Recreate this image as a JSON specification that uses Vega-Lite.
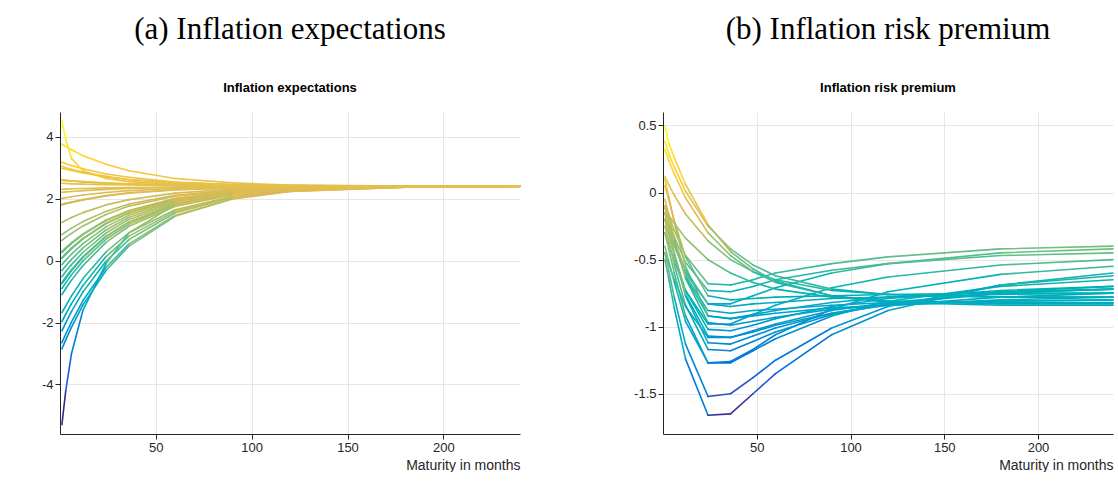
{
  "$schema": "https://vega.github.io/schema/vega-lite/v6.json",
  "background": "white",
  "padding": {"left": 41, "top": 14, "right": 0, "bottom": 0},
  "datasets": {
    "ie": [
      {"d":"2004-09","m":1,"v":2.21},{"d":"2004-09","m":3,"v":2.22},{"d":"2004-09","m":6,"v":2.23},{"d":"2004-09","m":12,"v":2.26},{"d":"2004-09","m":24,"v":2.30},{"d":"2004-09","m":36,"v":2.33},{"d":"2004-09","m":60,"v":2.36},{"d":"2004-09","m":90,"v":2.38},{"d":"2004-09","m":120,"v":2.39},{"d":"2004-09","m":180,"v":2.40},{"d":"2004-09","m":240,"v":2.40},
      {"d":"2005-03","m":1,"v":2.59},{"d":"2005-03","m":3,"v":2.58},{"d":"2005-03","m":6,"v":2.57},{"d":"2005-03","m":12,"v":2.54},{"d":"2005-03","m":24,"v":2.50},{"d":"2005-03","m":36,"v":2.47},{"d":"2005-03","m":60,"v":2.44},{"d":"2005-03","m":90,"v":2.42},{"d":"2005-03","m":120,"v":2.41},{"d":"2005-03","m":180,"v":2.40},{"d":"2005-03","m":240,"v":2.40},
      {"d":"2005-09","m":1,"v":2.98},{"d":"2005-09","m":3,"v":2.95},{"d":"2005-09","m":6,"v":2.91},{"d":"2005-09","m":12,"v":2.83},{"d":"2005-09","m":24,"v":2.70},{"d":"2005-09","m":36,"v":2.61},{"d":"2005-09","m":60,"v":2.51},{"d":"2005-09","m":90,"v":2.45},{"d":"2005-09","m":120,"v":2.42},{"d":"2005-09","m":180,"v":2.40},{"d":"2005-09","m":240,"v":2.40},
      {"d":"2006-03","m":1,"v":2.50},{"d":"2006-03","m":3,"v":2.49},{"d":"2006-03","m":6,"v":2.48},{"d":"2006-03","m":12,"v":2.47},{"d":"2006-03","m":24,"v":2.45},{"d":"2006-03","m":36,"v":2.44},{"d":"2006-03","m":60,"v":2.42},{"d":"2006-03","m":90,"v":2.41},{"d":"2006-03","m":120,"v":2.40},{"d":"2006-03","m":180,"v":2.40},{"d":"2006-03","m":240,"v":2.40},
      {"d":"2006-09","m":1,"v":1.82},{"d":"2006-09","m":3,"v":1.85},{"d":"2006-09","m":6,"v":1.89},{"d":"2006-09","m":12,"v":1.97},{"d":"2006-09","m":24,"v":2.10},{"d":"2006-09","m":36,"v":2.19},{"d":"2006-09","m":60,"v":2.29},{"d":"2006-09","m":90,"v":2.35},{"d":"2006-09","m":120,"v":2.38},{"d":"2006-09","m":180,"v":2.40},{"d":"2006-09","m":240,"v":2.40},
      {"d":"2007-03","m":1,"v":2.30},{"d":"2007-03","m":3,"v":2.31},{"d":"2007-03","m":6,"v":2.32},{"d":"2007-03","m":12,"v":2.33},{"d":"2007-03","m":24,"v":2.35},{"d":"2007-03","m":36,"v":2.36},{"d":"2007-03","m":60,"v":2.38},{"d":"2007-03","m":90,"v":2.39},{"d":"2007-03","m":120,"v":2.40},{"d":"2007-03","m":180,"v":2.40},{"d":"2007-03","m":240,"v":2.40},
      {"d":"2007-09","m":1,"v":2.62},{"d":"2007-09","m":3,"v":2.60},{"d":"2007-09","m":6,"v":2.58},{"d":"2007-09","m":12,"v":2.55},{"d":"2007-09","m":24,"v":2.51},{"d":"2007-09","m":36,"v":2.48},{"d":"2007-09","m":60,"v":2.44},{"d":"2007-09","m":90,"v":2.42},{"d":"2007-09","m":120,"v":2.41},{"d":"2007-09","m":180,"v":2.40},{"d":"2007-09","m":240,"v":2.40},
      {"d":"2008-03","m":1,"v":3.18},{"d":"2008-03","m":3,"v":3.13},{"d":"2008-03","m":6,"v":3.07},{"d":"2008-03","m":12,"v":2.97},{"d":"2008-03","m":24,"v":2.80},{"d":"2008-03","m":36,"v":2.69},{"d":"2008-03","m":60,"v":2.54},{"d":"2008-03","m":90,"v":2.46},{"d":"2008-03","m":120,"v":2.43},{"d":"2008-03","m":180,"v":2.40},{"d":"2008-03","m":240,"v":2.40},
      {"d":"2008-07","m":1,"v":3.76},{"d":"2008-07","m":3,"v":3.69},{"d":"2008-07","m":6,"v":3.58},{"d":"2008-07","m":12,"v":3.39},{"d":"2008-07","m":24,"v":3.11},{"d":"2008-07","m":36,"v":2.90},{"d":"2008-07","m":60,"v":2.65},{"d":"2008-07","m":90,"v":2.51},{"d":"2008-07","m":120,"v":2.44},{"d":"2008-07","m":180,"v":2.41},{"d":"2008-07","m":240,"v":2.40},
      {"d":"2008-12","m":1,"v":-5.30},{"d":"2008-12","m":3,"v":-4.20},{"d":"2008-12","m":6,"v":-3.00},{"d":"2008-12","m":12,"v":-1.60},{"d":"2008-12","m":24,"v":-0.10},{"d":"2008-12","m":36,"v":0.90},{"d":"2008-12","m":60,"v":1.80},{"d":"2008-12","m":90,"v":2.20},{"d":"2008-12","m":120,"v":2.35},{"d":"2008-12","m":180,"v":2.40},{"d":"2008-12","m":240,"v":2.40},
      {"d":"2009-03","m":1,"v":-2.85},{"d":"2009-03","m":3,"v":-2.56},{"d":"2009-03","m":6,"v":-2.15},{"d":"2009-03","m":12,"v":-1.43},{"d":"2009-03","m":24,"v":-0.32},{"d":"2009-03","m":36,"v":0.47},{"d":"2009-03","m":60,"v":1.43},{"d":"2009-03","m":90,"v":1.99},{"d":"2009-03","m":120,"v":2.23},{"d":"2009-03","m":180,"v":2.37},{"d":"2009-03","m":240,"v":2.39},
      {"d":"2009-09","m":1,"v":-0.71},{"d":"2009-09","m":3,"v":-0.54},{"d":"2009-09","m":6,"v":-0.29},{"d":"2009-09","m":12,"v":0.13},{"d":"2009-09","m":24,"v":0.79},{"d":"2009-09","m":36,"v":1.25},{"d":"2009-09","m":60,"v":1.82},{"d":"2009-09","m":90,"v":2.16},{"d":"2009-09","m":120,"v":2.30},{"d":"2009-09","m":180,"v":2.38},{"d":"2009-09","m":240,"v":2.40},
      {"d":"2010-03","m":1,"v":0.84},{"d":"2010-03","m":3,"v":0.93},{"d":"2010-03","m":6,"v":1.05},{"d":"2010-03","m":12,"v":1.26},{"d":"2010-03","m":24,"v":1.59},{"d":"2010-03","m":36,"v":1.83},{"d":"2010-03","m":60,"v":2.11},{"d":"2010-03","m":90,"v":2.28},{"d":"2010-03","m":120,"v":2.35},{"d":"2010-03","m":180,"v":2.39},{"d":"2010-03","m":240,"v":2.40},
      {"d":"2010-09","m":1,"v":0.26},{"d":"2010-09","m":3,"v":0.38},{"d":"2010-09","m":6,"v":0.55},{"d":"2010-09","m":12,"v":0.84},{"d":"2010-09","m":24,"v":1.29},{"d":"2010-09","m":36,"v":1.61},{"d":"2010-09","m":60,"v":2.00},{"d":"2010-09","m":90,"v":2.23},{"d":"2010-09","m":120,"v":2.33},{"d":"2010-09","m":180,"v":2.39},{"d":"2010-09","m":240,"v":2.40},
      {"d":"2011-03","m":1,"v":1.80},{"d":"2011-03","m":3,"v":1.84},{"d":"2011-03","m":6,"v":1.88},{"d":"2011-03","m":12,"v":1.96},{"d":"2011-03","m":24,"v":2.09},{"d":"2011-03","m":36,"v":2.18},{"d":"2011-03","m":60,"v":2.28},{"d":"2011-03","m":90,"v":2.35},{"d":"2011-03","m":120,"v":2.38},{"d":"2011-03","m":180,"v":2.40},{"d":"2011-03","m":240,"v":2.40},
      {"d":"2011-09","m":1,"v":1.23},{"d":"2011-09","m":3,"v":1.30},{"d":"2011-09","m":6,"v":1.39},{"d":"2011-09","m":12,"v":1.55},{"d":"2011-09","m":24,"v":1.80},{"d":"2011-09","m":36,"v":1.97},{"d":"2011-09","m":60,"v":2.18},{"d":"2011-09","m":90,"v":2.31},{"d":"2011-09","m":120,"v":2.36},{"d":"2011-09","m":180,"v":2.39},{"d":"2011-09","m":240,"v":2.40},
      {"d":"2012-03","m":1,"v":0.65},{"d":"2012-03","m":3,"v":0.75},{"d":"2012-03","m":6,"v":0.88},{"d":"2012-03","m":12,"v":1.12},{"d":"2012-03","m":24,"v":1.49},{"d":"2012-03","m":36,"v":1.76},{"d":"2012-03","m":60,"v":2.08},{"d":"2012-03","m":90,"v":2.26},{"d":"2012-03","m":120,"v":2.34},{"d":"2012-03","m":180,"v":2.39},{"d":"2012-03","m":240,"v":2.40},
      {"d":"2012-09","m":1,"v":0.07},{"d":"2012-09","m":3,"v":0.20},{"d":"2012-09","m":6,"v":0.38},{"d":"2012-09","m":12,"v":0.70},{"d":"2012-09","m":24,"v":1.19},{"d":"2012-09","m":36,"v":1.54},{"d":"2012-09","m":60,"v":1.97},{"d":"2012-09","m":90,"v":2.22},{"d":"2012-09","m":120,"v":2.32},{"d":"2012-09","m":180,"v":2.39},{"d":"2012-09","m":240,"v":2.40},
      {"d":"2013-06","m":1,"v":-0.52},{"d":"2013-06","m":3,"v":-0.35},{"d":"2013-06","m":6,"v":-0.13},{"d":"2013-06","m":12,"v":0.27},{"d":"2013-06","m":24,"v":0.89},{"d":"2013-06","m":36,"v":1.33},{"d":"2013-06","m":60,"v":1.86},{"d":"2013-06","m":90,"v":2.17},{"d":"2013-06","m":120,"v":2.30},{"d":"2013-06","m":180,"v":2.38},{"d":"2013-06","m":240,"v":2.40},
      {"d":"2014-03","m":1,"v":-0.13},{"d":"2014-03","m":3,"v":0.01},{"d":"2014-03","m":6,"v":0.21},{"d":"2014-03","m":12,"v":0.55},{"d":"2014-03","m":24,"v":1.09},{"d":"2014-03","m":36,"v":1.47},{"d":"2014-03","m":60,"v":1.93},{"d":"2014-03","m":90,"v":2.20},{"d":"2014-03","m":120,"v":2.32},{"d":"2014-03","m":180,"v":2.38},{"d":"2014-03","m":240,"v":2.40},
      {"d":"2014-12","m":1,"v":-2.27},{"d":"2014-12","m":3,"v":-2.01},{"d":"2014-12","m":6,"v":-1.64},{"d":"2014-12","m":12,"v":-1.01},{"d":"2014-12","m":24,"v":-0.02},{"d":"2014-12","m":36,"v":0.68},{"d":"2014-12","m":60,"v":1.54},{"d":"2014-12","m":90,"v":2.04},{"d":"2014-12","m":120,"v":2.25},{"d":"2014-12","m":180,"v":2.37},{"d":"2014-12","m":240,"v":2.40},
      {"d":"2015-06","m":1,"v":-1.10},{"d":"2015-06","m":3,"v":-0.90},{"d":"2015-06","m":6,"v":-0.63},{"d":"2015-06","m":12,"v":-0.16},{"d":"2015-06","m":24,"v":0.59},{"d":"2015-06","m":36,"v":1.11},{"d":"2015-06","m":60,"v":1.75},{"d":"2015-06","m":90,"v":2.13},{"d":"2015-06","m":120,"v":2.28},{"d":"2015-06","m":180,"v":2.38},{"d":"2015-06","m":240,"v":2.40},
      {"d":"2016-01","m":1,"v":-2.65},{"d":"2016-01","m":3,"v":-2.37},{"d":"2016-01","m":6,"v":-1.98},{"d":"2016-01","m":12,"v":-1.29},{"d":"2016-01","m":24,"v":-0.22},{"d":"2016-01","m":36,"v":0.54},{"d":"2016-01","m":60,"v":1.46},{"d":"2016-01","m":90,"v":2.00},{"d":"2016-01","m":120,"v":2.23},{"d":"2016-01","m":180,"v":2.37},{"d":"2016-01","m":240,"v":2.39},
      {"d":"2016-09","m":1,"v":-0.32},{"d":"2016-09","m":3,"v":-0.17},{"d":"2016-09","m":6,"v":0.04},{"d":"2016-09","m":12,"v":0.41},{"d":"2016-09","m":24,"v":0.99},{"d":"2016-09","m":36,"v":1.40},{"d":"2016-09","m":60,"v":1.90},{"d":"2016-09","m":90,"v":2.19},{"d":"2016-09","m":120,"v":2.31},{"d":"2016-09","m":180,"v":2.38},{"d":"2016-09","m":240,"v":2.40},
      {"d":"2017-06","m":1,"v":-0.90},{"d":"2017-06","m":3,"v":-0.72},{"d":"2017-06","m":6,"v":-0.46},{"d":"2017-06","m":12,"v":-0.01},{"d":"2017-06","m":24,"v":0.69},{"d":"2017-06","m":36,"v":1.18},{"d":"2017-06","m":60,"v":1.79},{"d":"2017-06","m":90,"v":2.14},{"d":"2017-06","m":120,"v":2.29},{"d":"2017-06","m":180,"v":2.38},{"d":"2017-06","m":240,"v":2.40},
      {"d":"2018-03","m":1,"v":0.30},{"d":"2018-03","m":3,"v":0.41},{"d":"2018-03","m":6,"v":0.58},{"d":"2018-03","m":12,"v":0.86},{"d":"2018-03","m":24,"v":1.31},{"d":"2018-03","m":36,"v":1.62},{"d":"2018-03","m":60,"v":2.01},{"d":"2018-03","m":90,"v":2.24},{"d":"2018-03","m":120,"v":2.33},{"d":"2018-03","m":180,"v":2.39},{"d":"2018-03","m":240,"v":2.40},
      {"d":"2018-12","m":1,"v":-1.68},{"d":"2018-12","m":3,"v":-1.46},{"d":"2018-12","m":6,"v":-1.14},{"d":"2018-12","m":12,"v":-0.58},{"d":"2018-12","m":24,"v":0.28},{"d":"2018-12","m":36,"v":0.90},{"d":"2018-12","m":60,"v":1.64},{"d":"2018-12","m":90,"v":2.08},{"d":"2018-12","m":120,"v":2.27},{"d":"2018-12","m":180,"v":2.37},{"d":"2018-12","m":240,"v":2.40},
      {"d":"2019-09","m":1,"v":-0.75},{"d":"2019-09","m":3,"v":-0.58},{"d":"2019-09","m":6,"v":-0.33},{"d":"2019-09","m":12,"v":0.10},{"d":"2019-09","m":24,"v":0.77},{"d":"2019-09","m":36,"v":1.24},{"d":"2019-09","m":60,"v":1.81},{"d":"2019-09","m":90,"v":2.15},{"d":"2019-09","m":120,"v":2.30},{"d":"2019-09","m":180,"v":2.38},{"d":"2019-09","m":240,"v":2.40},
      {"d":"2020-04","m":1,"v":-1.97},{"d":"2020-04","m":3,"v":-1.73},{"d":"2020-04","m":6,"v":-1.39},{"d":"2020-04","m":12,"v":-0.80},{"d":"2020-04","m":24,"v":0.13},{"d":"2020-04","m":36,"v":0.79},{"d":"2020-04","m":60,"v":1.59},{"d":"2020-04","m":90,"v":2.06},{"d":"2020-04","m":120,"v":2.26},{"d":"2020-04","m":180,"v":2.37},{"d":"2020-04","m":240,"v":2.40},
      {"d":"2020-12","m":1,"v":0.10},{"d":"2020-12","m":3,"v":0.23},{"d":"2020-12","m":6,"v":0.41},{"d":"2020-12","m":12,"v":0.72},{"d":"2020-12","m":24,"v":1.21},{"d":"2020-12","m":36,"v":1.55},{"d":"2020-12","m":60,"v":1.98},{"d":"2020-12","m":90,"v":2.22},{"d":"2020-12","m":120,"v":2.32},{"d":"2020-12","m":180,"v":2.39},{"d":"2020-12","m":240,"v":2.40},
      {"d":"2021-06","m":1,"v":2.01},{"d":"2021-06","m":3,"v":2.03},{"d":"2021-06","m":6,"v":2.06},{"d":"2021-06","m":12,"v":2.12},{"d":"2021-06","m":24,"v":2.20},{"d":"2021-06","m":36,"v":2.26},{"d":"2021-06","m":60,"v":2.33},{"d":"2021-06","m":90,"v":2.37},{"d":"2021-06","m":120,"v":2.39},{"d":"2021-06","m":180,"v":2.40},{"d":"2021-06","m":240,"v":2.40},
      {"d":"2022-03","m":1,"v":4.50},{"d":"2022-03","m":3,"v":3.90},{"d":"2022-03","m":6,"v":3.30},{"d":"2022-03","m":12,"v":2.90},{"d":"2022-03","m":24,"v":2.65},{"d":"2022-03","m":36,"v":2.55},{"d":"2022-03","m":60,"v":2.47},{"d":"2022-03","m":90,"v":2.43},{"d":"2022-03","m":120,"v":2.41},{"d":"2022-03","m":180,"v":2.40},{"d":"2022-03","m":240,"v":2.40},
      {"d":"2022-09","m":1,"v":3.05},{"d":"2022-09","m":3,"v":3.00},{"d":"2022-09","m":6,"v":2.95},{"d":"2022-09","m":12,"v":2.86},{"d":"2022-09","m":24,"v":2.72},{"d":"2022-09","m":36,"v":2.62},{"d":"2022-09","m":60,"v":2.52},{"d":"2022-09","m":90,"v":2.46},{"d":"2022-09","m":120,"v":2.42},{"d":"2022-09","m":180,"v":2.40},{"d":"2022-09","m":240,"v":2.40},
      {"d":"2023-01","m":1,"v":2.60},{"d":"2023-01","m":3,"v":2.59},{"d":"2023-01","m":6,"v":2.57},{"d":"2023-01","m":12,"v":2.54},{"d":"2023-01","m":24,"v":2.50},{"d":"2023-01","m":36,"v":2.47},{"d":"2023-01","m":60,"v":2.44},{"d":"2023-01","m":90,"v":2.42},{"d":"2023-01","m":120,"v":2.41},{"d":"2023-01","m":180,"v":2.40},{"d":"2023-01","m":240,"v":2.40}
    ],
    "irp": [
      {"d":"2004-09","m":1,"v":-0.10},{"d":"2004-09","m":3,"v":-0.17},{"d":"2004-09","m":6,"v":-0.28},{"d":"2004-09","m":12,"v":-0.47},{"d":"2004-09","m":24,"v":-0.68},{"d":"2004-09","m":36,"v":-0.69},{"d":"2004-09","m":48,"v":-0.65},{"d":"2004-09","m":60,"v":-0.60},{"d":"2004-09","m":90,"v":-0.53},{"d":"2004-09","m":120,"v":-0.48},{"d":"2004-09","m":180,"v":-0.42},{"d":"2004-09","m":240,"v":-0.40},
      {"d":"2005-06","m":1,"v":-0.20},{"d":"2005-06","m":3,"v":-0.28},{"d":"2005-06","m":6,"v":-0.40},{"d":"2005-06","m":12,"v":-0.60},{"d":"2005-06","m":24,"v":-0.83},{"d":"2005-06","m":36,"v":-0.83},{"d":"2005-06","m":48,"v":-0.77},{"d":"2005-06","m":60,"v":-0.71},{"d":"2005-06","m":90,"v":-0.60},{"d":"2005-06","m":120,"v":-0.53},{"d":"2005-06","m":180,"v":-0.45},{"d":"2005-06","m":240,"v":-0.42},
      {"d":"2006-06","m":1,"v":-0.15},{"d":"2006-06","m":3,"v":-0.22},{"d":"2006-06","m":6,"v":-0.33},{"d":"2006-06","m":12,"v":-0.52},{"d":"2006-06","m":24,"v":-0.73},{"d":"2006-06","m":36,"v":-0.74},{"d":"2006-06","m":48,"v":-0.70},{"d":"2006-06","m":60,"v":-0.65},{"d":"2006-06","m":90,"v":-0.58},{"d":"2006-06","m":120,"v":-0.53},{"d":"2006-06","m":180,"v":-0.47},{"d":"2006-06","m":240,"v":-0.45},
      {"d":"2007-06","m":1,"v":-0.30},{"d":"2007-06","m":3,"v":-0.38},{"d":"2007-06","m":6,"v":-0.51},{"d":"2007-06","m":12,"v":-0.73},{"d":"2007-06","m":24,"v":-0.98},{"d":"2007-06","m":36,"v":-0.98},{"d":"2007-06","m":48,"v":-0.91},{"d":"2007-06","m":60,"v":-0.84},{"d":"2007-06","m":90,"v":-0.71},{"d":"2007-06","m":120,"v":-0.63},{"d":"2007-06","m":180,"v":-0.54},{"d":"2007-06","m":240,"v":-0.50},
      {"d":"2008-03","m":1,"v":-0.40},{"d":"2008-03","m":3,"v":-0.51},{"d":"2008-03","m":6,"v":-0.67},{"d":"2008-03","m":12,"v":-0.96},{"d":"2008-03","m":24,"v":-1.27},{"d":"2008-03","m":36,"v":-1.26},{"d":"2008-03","m":48,"v":-1.17},{"d":"2008-03","m":60,"v":-1.06},{"d":"2008-03","m":90,"v":-0.87},{"d":"2008-03","m":120,"v":-0.74},{"d":"2008-03","m":180,"v":-0.61},{"d":"2008-03","m":240,"v":-0.55},
      {"d":"2008-09","m":1,"v":-0.50},{"d":"2008-09","m":3,"v":-0.64},{"d":"2008-09","m":6,"v":-0.86},{"d":"2008-09","m":12,"v":-1.24},{"d":"2008-09","m":24,"v":-1.66},{"d":"2008-09","m":36,"v":-1.65},{"d":"2008-09","m":48,"v":-1.50},{"d":"2008-09","m":60,"v":-1.35},{"d":"2008-09","m":90,"v":-1.06},{"d":"2008-09","m":120,"v":-0.88},{"d":"2008-09","m":180,"v":-0.69},{"d":"2008-09","m":240,"v":-0.60},
      {"d":"2009-03","m":1,"v":-0.45},{"d":"2009-03","m":3,"v":-0.58},{"d":"2009-03","m":6,"v":-0.78},{"d":"2009-03","m":12,"v":-1.13},{"d":"2009-03","m":24,"v":-1.52},{"d":"2009-03","m":36,"v":-1.50},{"d":"2009-03","m":48,"v":-1.38},{"d":"2009-03","m":60,"v":-1.25},{"d":"2009-03","m":90,"v":-1.01},{"d":"2009-03","m":120,"v":-0.85},{"d":"2009-03","m":180,"v":-0.69},{"d":"2009-03","m":240,"v":-0.62},
      {"d":"2009-09","m":1,"v":-0.30},{"d":"2009-09","m":3,"v":-0.42},{"d":"2009-09","m":6,"v":-0.60},{"d":"2009-09","m":12,"v":-0.92},{"d":"2009-09","m":24,"v":-1.27},{"d":"2009-09","m":36,"v":-1.27},{"d":"2009-09","m":48,"v":-1.18},{"d":"2009-09","m":60,"v":-1.09},{"d":"2009-09","m":90,"v":-0.92},{"d":"2009-09","m":120,"v":-0.81},{"d":"2009-09","m":180,"v":-0.70},{"d":"2009-09","m":240,"v":-0.65},
      {"d":"2010-06","m":1,"v":-0.20},{"d":"2010-06","m":3,"v":-0.30},{"d":"2010-06","m":6,"v":-0.46},{"d":"2010-06","m":12,"v":-0.73},{"d":"2010-06","m":24,"v":-1.02},{"d":"2010-06","m":36,"v":-1.03},{"d":"2010-06","m":48,"v":-0.99},{"d":"2010-06","m":60,"v":-0.94},{"d":"2010-06","m":90,"v":-0.85},{"d":"2010-06","m":120,"v":-0.79},{"d":"2010-06","m":180,"v":-0.73},{"d":"2010-06","m":240,"v":-0.70},
      {"d":"2011-03","m":1,"v":-0.10},{"d":"2011-03","m":3,"v":-0.20},{"d":"2011-03","m":6,"v":-0.36},{"d":"2011-03","m":12,"v":-0.63},{"d":"2011-03","m":24,"v":-0.92},{"d":"2011-03","m":36,"v":-0.94},{"d":"2011-03","m":48,"v":-0.91},{"d":"2011-03","m":60,"v":-0.88},{"d":"2011-03","m":90,"v":-0.82},{"d":"2011-03","m":120,"v":-0.78},{"d":"2011-03","m":180,"v":-0.74},{"d":"2011-03","m":240,"v":-0.72},
      {"d":"2012-03","m":1,"v":0.05},{"d":"2012-03","m":3,"v":-0.05},{"d":"2012-03","m":6,"v":-0.21},{"d":"2012-03","m":12,"v":-0.48},{"d":"2012-03","m":24,"v":-0.77},{"d":"2012-03","m":36,"v":-0.80},{"d":"2012-03","m":48,"v":-0.79},{"d":"2012-03","m":60,"v":-0.78},{"d":"2012-03","m":90,"v":-0.77},{"d":"2012-03","m":120,"v":-0.76},{"d":"2012-03","m":180,"v":-0.75},{"d":"2012-03","m":240,"v":-0.75},
      {"d":"2013-03","m":1,"v":0.38},{"d":"2013-03","m":3,"v":0.29},{"d":"2013-03","m":6,"v":0.19},{"d":"2013-03","m":12,"v":0.01},{"d":"2013-03","m":24,"v":-0.25},{"d":"2013-03","m":36,"v":-0.42},{"d":"2013-03","m":48,"v":-0.54},{"d":"2013-03","m":60,"v":-0.62},{"d":"2013-03","m":90,"v":-0.72},{"d":"2013-03","m":120,"v":-0.76},{"d":"2013-03","m":180,"v":-0.78},{"d":"2013-03","m":240,"v":-0.78},
      {"d":"2014-03","m":1,"v":0.10},{"d":"2014-03","m":3,"v":-0.03},{"d":"2014-03","m":6,"v":-0.22},{"d":"2014-03","m":12,"v":-0.55},{"d":"2014-03","m":24,"v":-0.92},{"d":"2014-03","m":36,"v":-0.94},{"d":"2014-03","m":48,"v":-0.92},{"d":"2014-03","m":60,"v":-0.90},{"d":"2014-03","m":90,"v":-0.86},{"d":"2014-03","m":120,"v":-0.84},{"d":"2014-03","m":180,"v":-0.81},{"d":"2014-03","m":240,"v":-0.80},
      {"d":"2015-03","m":1,"v":-0.15},{"d":"2015-03","m":3,"v":-0.24},{"d":"2015-03","m":6,"v":-0.38},{"d":"2015-03","m":12,"v":-0.62},{"d":"2015-03","m":24,"v":-0.88},{"d":"2015-03","m":36,"v":-0.90},{"d":"2015-03","m":48,"v":-0.88},{"d":"2015-03","m":60,"v":-0.87},{"d":"2015-03","m":90,"v":-0.84},{"d":"2015-03","m":120,"v":-0.82},{"d":"2015-03","m":180,"v":-0.81},{"d":"2015-03","m":240,"v":-0.80},
      {"d":"2016-03","m":1,"v":-0.05},{"d":"2016-03","m":3,"v":-0.16},{"d":"2016-03","m":6,"v":-0.34},{"d":"2016-03","m":12,"v":-0.64},{"d":"2016-03","m":24,"v":-0.97},{"d":"2016-03","m":36,"v":-0.99},{"d":"2016-03","m":48,"v":-0.96},{"d":"2016-03","m":60,"v":-0.93},{"d":"2016-03","m":90,"v":-0.87},{"d":"2016-03","m":120,"v":-0.84},{"d":"2016-03","m":180,"v":-0.80},{"d":"2016-03","m":240,"v":-0.78},
      {"d":"2017-03","m":1,"v":-0.20},{"d":"2017-03","m":3,"v":-0.31},{"d":"2017-03","m":6,"v":-0.47},{"d":"2017-03","m":12,"v":-0.76},{"d":"2017-03","m":24,"v":-1.07},{"d":"2017-03","m":36,"v":-1.08},{"d":"2017-03","m":48,"v":-1.04},{"d":"2017-03","m":60,"v":-0.99},{"d":"2017-03","m":90,"v":-0.90},{"d":"2017-03","m":120,"v":-0.84},{"d":"2017-03","m":180,"v":-0.78},{"d":"2017-03","m":240,"v":-0.75},
      {"d":"2018-03","m":1,"v":-0.15},{"d":"2018-03","m":3,"v":-0.27},{"d":"2018-03","m":6,"v":-0.45},{"d":"2018-03","m":12,"v":-0.77},{"d":"2018-03","m":24,"v":-1.12},{"d":"2018-03","m":36,"v":-1.13},{"d":"2018-03","m":48,"v":-1.07},{"d":"2018-03","m":60,"v":-1.01},{"d":"2018-03","m":90,"v":-0.90},{"d":"2018-03","m":120,"v":-0.83},{"d":"2018-03","m":180,"v":-0.75},{"d":"2018-03","m":240,"v":-0.72},
      {"d":"2019-03","m":1,"v":-0.25},{"d":"2019-03","m":3,"v":-0.36},{"d":"2019-03","m":6,"v":-0.54},{"d":"2019-03","m":12,"v":-0.84},{"d":"2019-03","m":24,"v":-1.17},{"d":"2019-03","m":36,"v":-1.18},{"d":"2019-03","m":48,"v":-1.11},{"d":"2019-03","m":60,"v":-1.04},{"d":"2019-03","m":90,"v":-0.91},{"d":"2019-03","m":120,"v":-0.83},{"d":"2019-03","m":180,"v":-0.74},{"d":"2019-03","m":240,"v":-0.70},
      {"d":"2020-03","m":1,"v":-0.45},{"d":"2020-03","m":3,"v":-0.53},{"d":"2020-03","m":6,"v":-0.65},{"d":"2020-03","m":12,"v":-0.85},{"d":"2020-03","m":24,"v":-1.08},{"d":"2020-03","m":36,"v":-1.08},{"d":"2020-03","m":48,"v":-1.03},{"d":"2020-03","m":60,"v":-0.98},{"d":"2020-03","m":90,"v":-0.88},{"d":"2020-03","m":120,"v":-0.82},{"d":"2020-03","m":180,"v":-0.75},{"d":"2020-03","m":240,"v":-0.72},
      {"d":"2020-12","m":1,"v":-0.15},{"d":"2020-12","m":3,"v":-0.23},{"d":"2020-12","m":6,"v":-0.36},{"d":"2020-12","m":12,"v":-0.58},{"d":"2020-12","m":24,"v":-0.83},{"d":"2020-12","m":36,"v":-0.85},{"d":"2020-12","m":48,"v":-0.83},{"d":"2020-12","m":60,"v":-0.82},{"d":"2020-12","m":90,"v":-0.79},{"d":"2020-12","m":120,"v":-0.78},{"d":"2020-12","m":180,"v":-0.76},{"d":"2020-12","m":240,"v":-0.75},
      {"d":"2021-06","m":1,"v":0.12},{"d":"2021-06","m":3,"v":0.06},{"d":"2021-06","m":6,"v":-0.02},{"d":"2021-06","m":12,"v":-0.16},{"d":"2021-06","m":24,"v":-0.36},{"d":"2021-06","m":36,"v":-0.50},{"d":"2021-06","m":48,"v":-0.59},{"d":"2021-06","m":60,"v":-0.65},{"d":"2021-06","m":90,"v":-0.73},{"d":"2021-06","m":120,"v":-0.76},{"d":"2021-06","m":180,"v":-0.78},{"d":"2021-06","m":240,"v":-0.78},
      {"d":"2022-03","m":1,"v":0.50},{"d":"2022-03","m":3,"v":0.37},{"d":"2022-03","m":6,"v":0.26},{"d":"2022-03","m":12,"v":0.06},{"d":"2022-03","m":24,"v":-0.24},{"d":"2022-03","m":36,"v":-0.44},{"d":"2022-03","m":48,"v":-0.57},{"d":"2022-03","m":60,"v":-0.66},{"d":"2022-03","m":90,"v":-0.77},{"d":"2022-03","m":120,"v":-0.82},{"d":"2022-03","m":180,"v":-0.84},{"d":"2022-03","m":240,"v":-0.84},
      {"d":"2022-09","m":1,"v":0.32},{"d":"2022-09","m":3,"v":0.24},{"d":"2022-09","m":6,"v":0.14},{"d":"2022-09","m":12,"v":-0.04},{"d":"2022-09","m":24,"v":-0.30},{"d":"2022-09","m":36,"v":-0.47},{"d":"2022-09","m":48,"v":-0.59},{"d":"2022-09","m":60,"v":-0.67},{"d":"2022-09","m":90,"v":-0.77},{"d":"2022-09","m":120,"v":-0.81},{"d":"2022-09","m":180,"v":-0.83},{"d":"2022-09","m":240,"v":-0.83},
      {"d":"2023-01","m":1,"v":-0.12},{"d":"2023-01","m":3,"v":-0.17},{"d":"2023-01","m":6,"v":-0.23},{"d":"2023-01","m":12,"v":-0.34},{"d":"2023-01","m":24,"v":-0.50},{"d":"2023-01","m":36,"v":-0.60},{"d":"2023-01","m":48,"v":-0.67},{"d":"2023-01","m":60,"v":-0.72},{"d":"2023-01","m":90,"v":-0.78},{"d":"2023-01","m":120,"v":-0.81},{"d":"2023-01","m":180,"v":-0.82},{"d":"2023-01","m":240,"v":-0.82}
    ]
  },
  "hconcat": [
    {
      "width": 460,
      "height": 322,
      "title": {"text": "(a) Inflation expectations", "subtitle": "Inflation expectations"},
      "data": {"name": "ie"},
      "transform": [
        {"window": [{"op": "lead", "field": "m", "as": "m2"}, {"op": "lead", "field": "v", "as": "v2"}], "groupby": ["d"], "sort": [{"field": "m", "order": "ascending"}]},
        {"filter": "datum.m2 != null"}
      ],
      "mark": {"type": "rule", "strokeWidth": 1.6, "strokeCap": "round"},
      "encoding": {
        "x": {"field": "m", "type": "quantitative", "scale": {"domain": [0, 240]}, "title": "Maturity in months",
              "axis": {"values": [50, 100, 150, 200], "titleAnchor": "end"}},
        "x2": {"field": "m2"},
        "y": {"field": "v", "type": "quantitative", "scale": {"domain": [-5.6, 4.8]}, "title": null,
              "axis": {"values": [4, 2, 0, -2, -4], "labelExpr": "'' + datum.value"}},
        "y2": {"field": "v2"},
        "detail": {"field": "d"},
        "color": {"field": "v", "type": "quantitative", "legend": null,
                  "scale": {"domain": [-5.3, -4.075, -2.85, -1.625, -0.4, 0.825, 2.05, 3.275, 4.5],
                            "range": ["#352a87", "#0363e1", "#1485d4", "#06a7c6", "#38b99e", "#92bf73", "#d9ba56", "#fcce2e", "#f9fb0e"]}}
      }
    },
    {
      "width": 450,
      "height": 322,
      "title": {"text": "(b) Inflation risk premium", "subtitle": "Inflation risk premium"},
      "data": {"name": "irp"},
      "transform": [
        {"window": [{"op": "lead", "field": "m", "as": "m2"}, {"op": "lead", "field": "v", "as": "v2"}], "groupby": ["d"], "sort": [{"field": "m", "order": "ascending"}]},
        {"filter": "datum.m2 != null"}
      ],
      "mark": {"type": "rule", "strokeWidth": 1.6, "strokeCap": "round"},
      "encoding": {
        "x": {"field": "m", "type": "quantitative", "scale": {"domain": [0, 240]}, "title": "Maturity in months",
              "axis": {"values": [50, 100, 150, 200], "titleAnchor": "end"}},
        "x2": {"field": "m2"},
        "y": {"field": "v", "type": "quantitative", "scale": {"domain": [-1.8, 0.6]}, "title": null,
              "axis": {"values": [0.5, 0, -0.5, -1, -1.5], "labelExpr": "'' + datum.value"}},
        "y2": {"field": "v2"},
        "detail": {"field": "d"},
        "color": {"field": "v", "type": "quantitative", "legend": null,
                  "scale": {"domain": [-1.7, -1.425, -1.15, -0.875, -0.6, -0.325, -0.05, 0.225, 0.5],
                            "range": ["#352a87", "#0363e1", "#1485d4", "#06a7c6", "#38b99e", "#92bf73", "#d9ba56", "#fcce2e", "#f9fb0e"]}}
      }
    }
  ],
  "spacing": 112,
  "resolve": {"scale": {"color": "independent", "y": "independent", "x": "independent"}},
  "config": {
    "view": {"stroke": null},
    "title": {
      "font": "Liberation Serif", "fontSize": 31, "fontWeight": "normal", "color": "#000000", "anchor": "middle",
      "subtitleFont": "Liberation Sans", "subtitleFontSize": 13, "subtitleFontWeight": "bold", "subtitleColor": "#000000",
      "subtitlePadding": 36, "offset": 16
    },
    "axis": {
      "domainColor": "#262626", "tickColor": "#262626", "labelColor": "#262626",
      "labelFont": "Liberation Sans", "labelFontSize": 13,
      "titleFont": "Liberation Sans", "titleFontSize": 14, "titleFontWeight": "normal", "titleColor": "#262626",
      "gridColor": "#e6e6e6", "tickSize": 5
    }
  }
}
